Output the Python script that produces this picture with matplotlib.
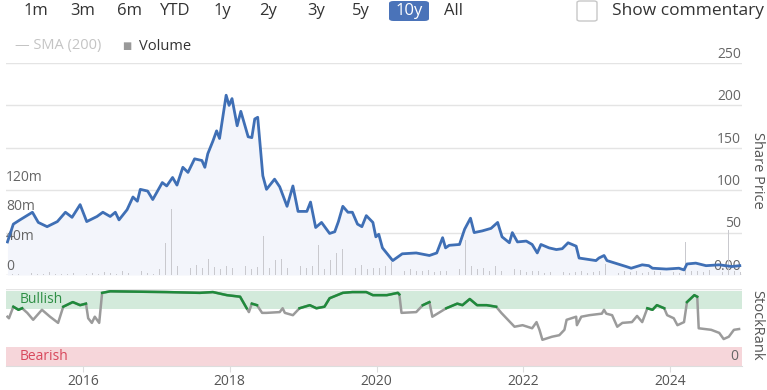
import numpy as np
import matplotlib
matplotlib.use('Agg')
import matplotlib.pyplot as plt
from matplotlib.patches import FancyBboxPatch

plt.rcParams['font.family'] = ['Open Sans', 'DejaVu Sans']

# share price (decimal years, price)
price_dates = [2014.97, 2015.05, 2015.14, 2015.31, 2015.39, 2015.51, 2015.65, 2015.76, 2015.85, 2015.96,
               2016.05, 2016.19, 2016.27, 2016.37, 2016.44, 2016.49, 2016.60, 2016.68, 2016.74, 2016.78,
               2016.88, 2016.95, 2017.08, 2017.14, 2017.22, 2017.28, 2017.36, 2017.43, 2017.52, 2017.62,
               2017.66, 2017.70, 2017.77, 2017.82, 2017.86, 2017.95, 2017.99, 2018.03, 2018.10, 2018.15,
               2018.25, 2018.30, 2018.34, 2018.38, 2018.45, 2018.50, 2018.61, 2018.68, 2018.78, 2018.86,
               2018.93, 2019.05, 2019.10, 2019.17, 2019.25, 2019.36, 2019.43, 2019.48, 2019.54, 2019.61,
               2019.67, 2019.74, 2019.80, 2019.86, 2019.95, 2019.99, 2020.03, 2020.08, 2020.22, 2020.35,
               2020.54, 2020.72, 2020.82, 2020.90, 2020.94, 2020.99, 2021.13, 2021.20, 2021.28, 2021.33,
               2021.44, 2021.56, 2021.65, 2021.71, 2021.81, 2021.85, 2021.92, 2022.04, 2022.12, 2022.19,
               2022.24, 2022.35, 2022.45, 2022.53, 2022.61, 2022.72, 2022.76, 2022.99, 2023.03, 2023.10,
               2023.14, 2023.40, 2023.47, 2023.62, 2023.71, 2023.76, 2023.95, 2024.12, 2024.19, 2024.23,
               2024.35, 2024.49, 2024.67, 2024.84, 2024.95]
price = [39, 60, 65, 74, 62, 57, 63, 74, 68, 83,
         63, 69, 74, 69, 74, 65, 77, 92, 87, 101,
         99, 89, 109, 105, 115, 106, 127, 121, 137, 135,
         127, 143, 158, 170, 161, 212, 200, 208, 176, 193,
         163, 162, 184, 186, 117, 101, 113, 104, 81, 105,
         75, 75, 86, 56, 62, 49, 51, 63, 81, 74,
         74, 60, 57, 70, 62, 45, 48, 32, 17, 25,
         26, 23, 26, 44, 32, 35, 36, 54, 67, 50,
         52, 55, 62, 45, 38, 50, 39, 40, 36, 26,
         36, 32, 30, 31, 38, 34, 20, 17, 20, 23,
         17, 10, 8, 12, 11, 8, 7, 8, 6, 13,
         14, 11, 12, 10, 11]

# monthly volume, millions, Jan 2015 .. Dec 2024
volume = [2, 1, 2, 3, 1, 2, 4, 2, 1, 2, 3, 2,
          2, 3, 2, 4, 3, 2, 5, 3, 2, 6, 3, 2,
          8, 43, 89, 12, 24, 10, 14, 9, 21, 11, 8, 12,
          10, 9, 12, 8, 11, 53, 9, 20, 22, 10, 8, 12,
          10, 12, 40, 8, 20, 30, 35, 12, 9, 14, 8, 10,
          9, 12, 18, 14, 6, 8, 6, 5, 7, 4, 6, 5,
          6, 8, 47, 12, 8, 10, 6, 12, 6, 5, 8, 7,
          4, 5, 6, 3, 4, 5, 4, 3, 4, 5, 3, 4,
          5, 15, 4, 3, 5, 4, 6, 3, 4, 5, 4, 3,
          4, 3, 45, 6, 5, 4, 7, 5, 4, 61, 5, 4]
volume_dates = 2015 + (np.arange(len(volume)) + 0.5) / 12

# StockRank
rank_dates = [2014.97, 2014.99, 2015.05, 2015.12, 2015.17, 2015.24, 2015.32, 2015.44, 2015.55, 2015.66,
              2015.73, 2015.86, 2015.96, 2016.04, 2016.07, 2016.12, 2016.16, 2016.22, 2016.26, 2016.37,
              2017.14, 2017.59, 2017.77, 2017.96, 2018.14, 2018.23, 2018.26, 2018.30, 2018.37, 2018.44,
              2018.50, 2018.68, 2018.72, 2018.75, 2018.86, 2018.95, 2019.09, 2019.18, 2019.29, 2019.36,
              2019.54, 2019.67, 2019.86, 2019.95, 2020.14, 2020.29, 2020.31, 2020.34, 2020.54, 2020.63,
              2020.72, 2020.76, 2020.95, 2021.10, 2021.17, 2021.27, 2021.37, 2021.50, 2021.63, 2021.70,
              2021.77, 2021.88, 2021.99, 2022.12, 2022.18, 2022.22, 2022.26, 2022.39, 2022.49, 2022.56,
              2022.59, 2022.72, 2022.73, 2022.79, 2022.90, 2023.07, 2023.10, 2023.13, 2023.21, 2023.28,
              2023.35, 2023.48, 2023.55, 2023.62, 2023.69, 2023.76, 2023.82, 2023.92, 2023.96, 2024.05,
              2024.10, 2024.19, 2024.23, 2024.33, 2024.37, 2024.39, 2024.56, 2024.67, 2024.73, 2024.80,
              2024.87, 2024.94]
rank = [64, 62, 77, 73, 75, 69, 60, 73, 64, 56,
        77, 83, 79, 81, 62, 56, 64, 56, 95, 97,
        96, 95, 96, 92, 90, 75, 70, 81, 79, 69,
        69, 70, 75, 69, 66, 75, 79, 75, 77, 88,
        95, 96, 96, 92, 92, 95, 93, 69, 70, 79,
        83, 64, 75, 81, 79, 87, 79, 79, 77, 69,
        62, 51, 53, 49, 57, 47, 34, 38, 40, 47,
        60, 64, 53, 64, 66, 68, 73, 68, 66, 51,
        56, 57, 65, 57, 75, 73, 79, 75, 66, 62,
        53, 57, 83, 92, 90, 49, 47, 43, 35, 38,
        47, 48]

years = [2016, 2018, 2020, 2022, 2024]
price_ticks = [0, 50, 100, 150, 200, 250]
price_labels = ['0.00', '50', '100', '150', '200', '250']
vol_ticks = [0, 40, 80, 120]
vol_labels = ['0', '40m', '80m', '120m']

W, H = 767, 390
fig = plt.figure(figsize=(W / 100, H / 100), dpi=100)
xlim = (2014.95, 2024.98)
left, width = 6 / W, 736 / W

# ---- price panel
ax = fig.add_axes([left, 1 - 275 / H, width, 212 / H])
ax.set_xlim(xlim)
ax.set_ylim(0, 250)
for t in price_ticks:
    ax.axhline(t, color='#e4e4e4' if t else '#d6d6d6', lw=1, zorder=0)
ax.fill_between(price_dates, price, 0, color='#f3f5fb', lw=0, zorder=1)
ax.axis('off')

axv = ax.twinx()
axv.set_xlim(xlim)
axv.set_ylim(0, 286)
axv.bar(volume_dates, volume, width=0.012, color='#c9c9ce', lw=0)
axv.axis('off')

axl = ax.twinx()
axl.set_xlim(xlim)
axl.set_ylim(0, 250)
axl.plot(price_dates, price, color='#3f6fb5', lw=2.0, solid_joinstyle='round')
axl.axis('off')

tr = ax.get_yaxis_transform()
for t, s in zip(price_ticks, price_labels):
    ax.text(0.9985, t + 1.5, s, transform=tr, ha='right', va='bottom',
            fontsize=10, color='#666666')
trv = axv.get_yaxis_transform()
for t, s in zip(vol_ticks, vol_labels):
    axv.text(0.0, t + 2, s, transform=trv, ha='left', va='bottom',
             fontsize=10, color='#666666')

# ---- stockrank panel
ax2 = fig.add_axes([left, 1 - 366 / H, width, 77 / H])
ax2.set_xlim(xlim)
ax2.set_ylim(0, 100)
ax2.axhspan(74, 97, color='#d3eadb', lw=0)
ax2.axhspan(0, 25, color='#f6d6da', lw=0)
ax2.axhline(100, color='#e4e4e4', lw=1)
r = np.array(rank, dtype=float)
ax2.plot(rank_dates, r, color='#9b9b9b', lw=1.8)
green = np.ma.masked_where(r < 72, r)
ax2.plot(rank_dates, green, color='#1f8a3b', lw=1.8)
ax2.text(2015.14, 86, 'Bullish', color='#2f8f45', fontsize=10, va='center')
ax2.text(2015.14, 12, 'Bearish', color='#d8485c', fontsize=10, va='center')
ax2.text(0.995, 12, '0', transform=ax2.get_yaxis_transform(), ha='right',
         va='center', fontsize=10, color='#666666')
for sp in ['top', 'left', 'right']:
    ax2.spines[sp].set_visible(False)
ax2.spines['bottom'].set_color('#dddddd')
ax2.set_yticks([])
ax2.set_xticks(years)
ax2.set_xticklabels([str(y) for y in years])
ax2.tick_params(axis='x', length=4.5, color='#dddddd', labelsize=10,
                labelcolor='#555555', pad=1.5)

fig.text(757 / W, 1 - 170 / H, 'Share Price', rotation=270, ha='center',
         va='center', fontsize=10.5, color='#555555')
fig.text(757 / W, 1 - 325 / H, 'StockRank', rotation=270, ha='center',
         va='center', fontsize=10.5, color='#555555')

# ---- top controls
buttons = ['1m', '3m', '6m', 'YTD', '1y', '2y', '3y', '5y', '10y', 'All']
btn_x = [36, 83, 129, 175, 222, 268, 316, 361, 409, 454]
for b, x in zip(buttons, btn_x):
    if b == '10y':
        fig.patches.append(FancyBboxPatch((389 / W, 1 - 21 / H), 40 / W, 20 / H,
                           boxstyle='round,pad=0,rounding_size=0.006',
                           transform=fig.transFigure, color='#4a73b9', lw=0))
    fig.text(x / W, 1 - 11 / H, b, ha='center', va='center', fontsize=12,
             color='white' if b == '10y' else '#333333')
fig.patches.append(FancyBboxPatch((577 / W, 1 - 21 / H), 20 / W, 20 / H,
                   boxstyle='round,pad=0,rounding_size=0.004',
                   transform=fig.transFigure, fc='white', ec='#c8c8c8', lw=1))
fig.text(612 / W, 1 - 11 / H, 'Show commentary', ha='left', va='center',
         fontsize=12.5, color='#333333')

fig.text(15 / W, 1 - 46 / H, '\u2014 SMA (200)', ha='left', va='center',
         fontsize=10.5, color='#c4c4c4')
fig.text(122 / W, 1 - 47 / H, '\u25a0', ha='left', va='center',
         fontsize=7, color='#999999')
fig.text(139 / W, 1 - 46 / H, 'Volume', ha='left', va='center',
         fontsize=10.5, color='#333333')

fig.savefig('out.png', dpi=100)
